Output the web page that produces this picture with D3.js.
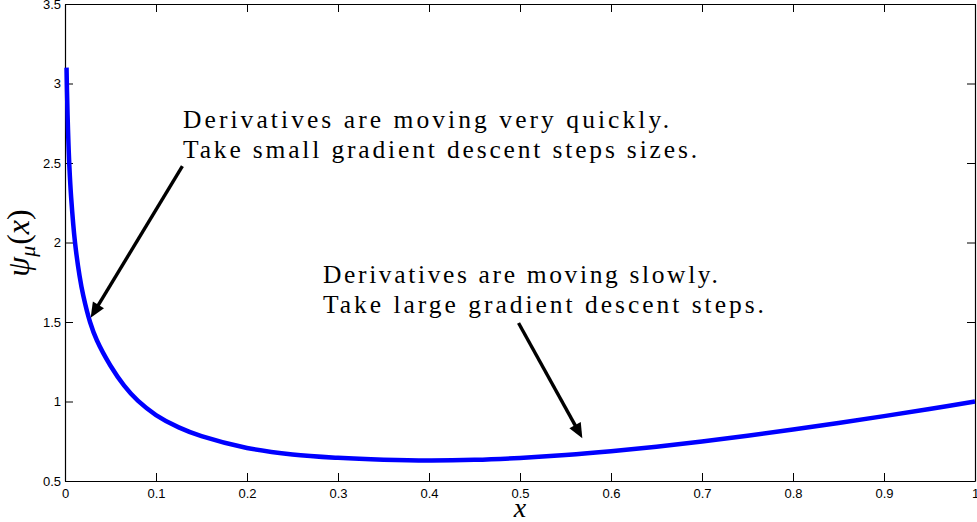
<!DOCTYPE html>
<html><head><meta charset="utf-8">
<script src="https://cdn.jsdelivr.net/npm/d3@7"></script>
<style>
html,body{margin:0;padding:0;background:#fff;}
svg{display:block;}
.tick text{font-family:"Liberation Sans",Arial,sans-serif;font-size:13px;fill:#000;}
</style></head>
<body>
<svg id="chart" width="977" height="522"></svg>
<script>
// ---- data ----
const xValues = [0.0017,0.0022,0.0033,0.0048,0.0068,0.011,0.016,0.02,0.0275,0.035,0.05,0.065,0.08,0.1,0.125,0.15,0.2,0.25,0.3,0.35,0.4,0.45,0.5,0.55,0.6,0.65,0.7,0.75,0.8,0.85,0.9,0.95,1.0];
const psiValues = [3.10,2.95,2.71,2.48,2.28,2.0,1.79,1.668,1.5,1.385,1.225,1.1,1.005,0.915,0.837,0.782,0.708,0.667,0.646,0.634,0.629,0.633,0.645,0.663,0.687,0.716,0.749,0.785,0.824,0.865,0.908,0.953,1.0];
const xTickValues = [0,0.1,0.2,0.3,0.4,0.5,0.6,0.7,0.8,0.9,1];
const xTickLabels = ["0","0.1","0.2","0.3","0.4","0.5","0.6","0.7","0.8","0.9","1"];
const yTickValues = [0.5,1,1.5,2,2.5,3,3.5];
const yTickLabels = ["0.5","1","1.5","2","2.5","3","3.5"];
const annotationLines = [
  ["Derivatives are moving very quickly.","Take small gradient descent steps sizes."],
  ["Derivatives are moving slowly.","Take large gradient descent steps."]
];
const annotationAnchor = [[0.1297,2.72],[0.2835,1.745]];   // text start (data coords)
const arrowFrom = [[0.129,2.48],[0.4984,1.494]];
const arrowTo   = [[0.0282,1.527],[0.5685,0.769]];

// ---- layout ----
const svg = d3.select("#chart");
const m = {left:65, top:4, right:2, bottom:41};
const W = 977 - m.left - m.right, H = 522 - m.top - m.bottom;
const x = d3.scaleLinear().domain([0,1]).range([0,W]);
const y = d3.scaleLinear().domain([0.5,3.5]).range([H,0]);
const g = svg.append("g").attr("transform",`translate(${m.left},${m.top})`);

// axes (inward ticks, mirrored box)
const ax = (sel)=>{sel.selectAll(".domain").attr("stroke","#000").attr("stroke-width",1.2);
  sel.selectAll(".tick line").attr("stroke","#000").attr("stroke-width",1);};
g.append("g").attr("transform",`translate(0,${H})`)
  .call(d3.axisBottom(x).tickValues(xTickValues).tickFormat((d,i)=>xTickLabels[i]).tickSize(-8).tickSizeOuter(0).tickPadding(8)).call(ax);
g.append("g")
  .call(d3.axisTop(x).tickValues(xTickValues).tickFormat("").tickSize(-8).tickSizeOuter(0)).call(ax);
g.append("g")
  .call(d3.axisLeft(y).tickValues(yTickValues).tickFormat((d,i)=>yTickLabels[i]).tickSize(-8).tickSizeOuter(0).tickPadding(4)).call(ax);
g.append("g").attr("transform",`translate(${W},0)`)
  .call(d3.axisRight(y).tickValues(yTickValues).tickFormat("").tickSize(-8).tickSizeOuter(0)).call(ax);
g.selectAll(".tick text").attr("fill","#000");

// curve
const pts = xValues.map((v,i)=>[v,psiValues[i]]);
g.append("path").datum(pts)
  .attr("fill","none").attr("stroke","#0000ff").attr("stroke-width",4.5).attr("stroke-linejoin","round")
  .attr("d", d3.line().x(d=>x(d[0])).y(d=>y(d[1])).curve(d3.curveCatmullRom.alpha(0.5)));

// arrows
arrowFrom.forEach((f,i)=>{
  const x0=x(f[0]), y0=y(f[1]), x1=x(arrowTo[i][0]), y1=y(arrowTo[i][1]);
  const dx=x1-x0, dy=y1-y0, L=Math.hypot(dx,dy), ux=dx/L, uy=dy/L;
  const hl=15, hw=6.5;
  const bx=x1-ux*hl, by=y1-uy*hl;
  g.append("line").attr("x1",x0).attr("y1",y0).attr("x2",bx+ux*2).attr("y2",by+uy*2)
    .attr("stroke","#000").attr("stroke-width",3.4);
  g.append("path").attr("fill","#000")
    .attr("d",`M${x1},${y1}L${bx-uy*hw},${by+ux*hw}L${bx+uy*hw},${by-ux*hw}Z`);
});

// annotations
const lineLengths = [[486,514],[395,441]];
annotationLines.forEach((lines,i)=>{
  lines.forEach((t,j)=>{
    g.append("text").attr("x",x(annotationAnchor[i][0])).attr("y",y(annotationAnchor[i][1])+j*29.5)
      .attr("font-family","'Liberation Serif','Times New Roman',serif").attr("font-size",25.5)
      .attr("textLength",lineLengths[i][j]).attr("lengthAdjust","spacing")
      .attr("fill","#000").text(t);
  });
});

// axis labels
svg.append("text").attr("x",520).attr("y",517).attr("text-anchor","middle")
  .attr("font-family","'Liberation Serif',serif").attr("font-style","italic").attr("font-size",28).text("x");
const yl = svg.append("text").attr("transform","translate(29,243) rotate(-90)").attr("text-anchor","middle")
  .attr("font-family","'Liberation Serif',serif").attr("font-style","italic").attr("font-size",32);
yl.append("tspan").text("ψ");
yl.append("tspan").attr("font-size",22).attr("dy",6).text("μ");
yl.append("tspan").attr("dy",-6).attr("font-style","normal").attr("dx",1).text("(");
yl.append("tspan").text("x");
yl.append("tspan").attr("font-style","normal").text(")");
</script>
</body></html>
